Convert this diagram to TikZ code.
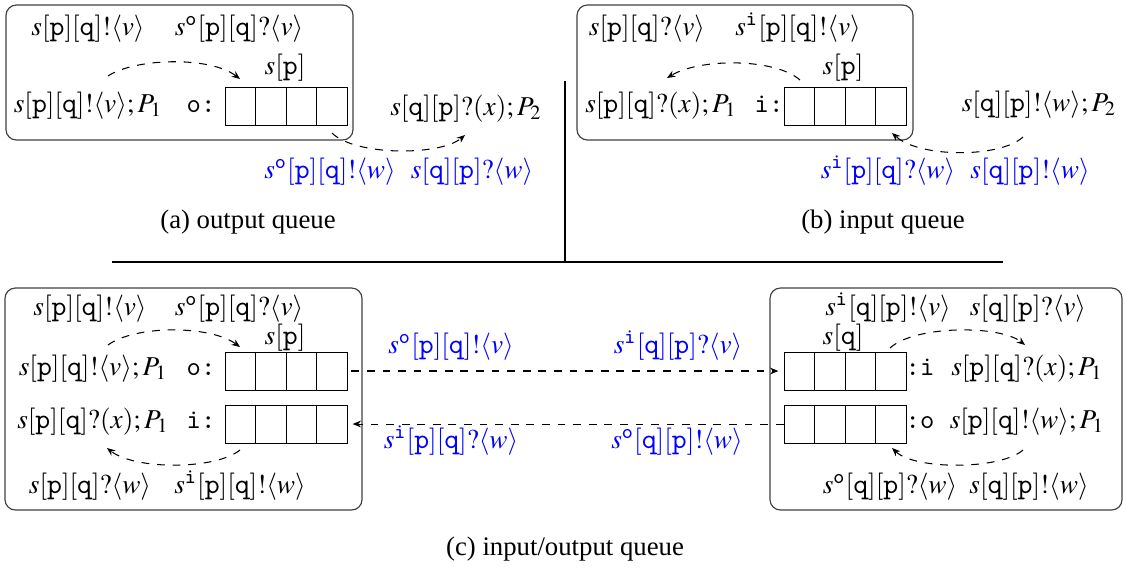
\documentclass[tikz,border=0pt]{standalone}
\usepackage{mathptmx}
\usepackage{fontspec}
\setmainfont{Liberation Serif}
\usetikzlibrary{arrows.meta,calc}

% session-type notation
\newcommand\Pp{\mathtt{p}}
\newcommand\Qq{\mathtt{q}}
\newcommand\So{s^{\mathtt{o}}}
\newcommand\Si{s^{\mathtt{i}}}
\newcommand\ang[1]{\langle #1\rangle}

\tikzset{
  lbl/.style={anchor=base, inner sep=0pt, font=\fontsize{10.5}{12}\selectfont},
  blu/.style={lbl, text=blue},
  captext/.style={anchor=base, inner sep=0pt, font=\fontsize{10.3}{12}\selectfont},
  queuebox/.style={draw, inner sep=0pt, minimum width=122*0.385pt, minimum height=38*0.385pt, line width=0.35pt},
  panel/.style={draw=black!75, rounded corners=4pt, line width=0.45pt},
  flow/.style={dashed, line width=0.4pt, -{Stealth[length=3.2pt,width=2.6pt]}},
  sepline/.style={line width=0.8pt}
}

% a four-cell queue buffer
\newcommand\queue[2]{%
  \node[queuebox] (#1) at #2 {};
  \foreach \f in {0.25,0.5,0.75}
    \draw[line width=0.35pt] ($(#1.north west)!\f!(#1.north east)$) -- ($(#1.south west)!\f!(#1.south east)$);
}

\begin{document}
\begin{tikzpicture}[x=0.385pt, y=-0.385pt]
\useasboundingbox (0,0) rectangle (1126,567);

% ---------- (a) output queue ----------
\draw[panel] (6,5) rectangle (353,140);
\node[lbl] (a1) at (88,35) {$s[\Pp][\Qq]!\ang{v}$};
\node[lbl] (a2) at (239,35) {$\So[\Pp][\Qq]?\ang{v}$};
\node[lbl] (asp) at (285,74) {$s[\Pp]$};
\node[lbl] (aproc) at (88,112) {$s[\Pp][\Qq]!\ang{v};P_1$};
\node[lbl] (ao) at (201,112) {\texttt{o:}};
\queue{qa}{(286,106)}
\node[lbl] (aproc2) at (466,115) {$s[\Qq][\Pp]?(x);P_2$};
\node[blu] (ab1) at (330,178) {$\So[\Pp][\Qq]!\ang{w}$};
\node[blu] (ab2) at (472,178) {$s[\Qq][\Pp]?\ang{w}$};
\node[captext] (capa) at (248,228) {(a) output queue};
\coordinate (a-s1) at (108,76);  \coordinate (a-e1) at (240,79);
\coordinate (a-s2) at (332,133); \coordinate (a-e2) at (465,135);
\draw[flow] (a-s1) .. controls (135,58) and (210,56) .. (a-e1);
\draw[flow] (a-s2) .. controls (355,156) and (440,156) .. (a-e2);

% ---------- (b) input queue ----------
\draw[panel] (577,5) rectangle (913,140);
\node[lbl] (b1) at (647,35) {$s[\Pp][\Qq]?\ang{v}$};
\node[lbl] (b2) at (798,35) {$\Si[\Pp][\Qq]!\ang{v}$};
\node[lbl] (bsp) at (843,74) {$s[\Pp]$};
\node[lbl] (bproc) at (661,112) {$s[\Pp][\Qq]?(x);P_1$};
\node[lbl] (bi) at (769,112) {\texttt{i:}};
\queue{qb}{(845,106)}
\node[lbl] (bproc2) at (1039,111) {$s[\Qq][\Pp]!\ang{w};P_2$};
\node[blu] (bb1) at (888,178) {$\Si[\Pp][\Qq]?\ang{w}$};
\node[blu] (bb2) at (1030,178) {$s[\Qq][\Pp]!\ang{w}$};
\node[captext] (capb) at (883,228) {(b) input queue};
\coordinate (b-s1) at (800,80);   \coordinate (b-e1) at (667,78);
\coordinate (b-s2) at (1023,137); \coordinate (b-e2) at (892,133);
\draw[flow] (b-s1) .. controls (775,58) and (700,58) .. (b-e1);
\draw[flow] (b-s2) .. controls (1000,158) and (920,158) .. (b-e2);

% ---------- separators ----------
\coordinate (vtop) at (565,81);
\coordinate (vbot) at (565,262);
\coordinate (hl) at (112,262);
\coordinate (hr) at (1003,262);
\draw[sepline] (vtop) -- (vbot);
\draw[sepline] (hl) -- (hr);

% ---------- (c) input/output queue: left endpoint ----------
\draw[panel] (5,288) rectangle (362,510);
\node[lbl] (c1) at (90,315) {$s[\Pp][\Qq]!\ang{v}$};
\node[lbl] (c2) at (239,315) {$\So[\Pp][\Qq]?\ang{v}$};
\node[lbl] (csp) at (285,344) {$s[\Pp]$};
\node[lbl] (cproc1) at (93,375) {$s[\Pp][\Qq]!\ang{v};P_1$};
\node[lbl] (co) at (201,375) {\texttt{o:}};
\queue{qco}{(286,371)}
\node[lbl] (cproc2) at (93,428) {$s[\Pp][\Qq]?(x);P_1$};
\node[lbl] (ci) at (201,428) {\texttt{i:}};
\queue{qci}{(286,424)}
\node[lbl] (c3) at (90,493) {$s[\Pp][\Qq]?\ang{w}$};
\node[lbl] (c4) at (240,493) {$\Si[\Pp][\Qq]!\ang{w}$};
\coordinate (c-s1) at (108,345); \coordinate (c-e1) at (240,347);
\coordinate (c-s2) at (240,450); \coordinate (c-e2) at (107,448);
\draw[flow] (c-s1) .. controls (135,325) and (210,325) .. (c-e1);
\draw[flow] (c-s2) .. controls (215,470) and (135,470) .. (c-e2);

% ---------- (c) input/output queue: right endpoint ----------
\draw[panel] (770,288) rectangle (1122,510);
\node[lbl] (d1) at (888,315) {$\Si[\Qq][\Pp]!\ang{v}$};
\node[lbl] (d2) at (1028,315) {$s[\Qq][\Pp]?\ang{v}$};
\node[lbl] (dsq) at (843,344) {$s[\Qq]$};
\queue{qdi}{(845,371)}
\node[lbl] (di) at (920,375) {\texttt{:i}};
\node[lbl] (dproc1) at (1027,375) {$s[\Pp][\Qq]?(x);P_1$};
\queue{qdo}{(845,424)}
\node[lbl] (do) at (920,428) {\texttt{:o}};
\node[lbl] (dproc2) at (1027,428) {$s[\Pp][\Qq]!\ang{w};P_1$};
\node[lbl] (d3) at (890,493) {$\So[\Qq][\Pp]?\ang{w}$};
\node[lbl] (d4) at (1029,493) {$s[\Qq][\Pp]!\ang{w}$};
\coordinate (d-s1) at (890,348);  \coordinate (d-e1) at (1025,345);
\coordinate (d-s2) at (1023,450); \coordinate (d-e2) at (892,448);
\draw[flow] (d-s1) .. controls (915,325) and (1000,325) .. (d-e1);
\draw[flow] (d-s2) .. controls (1000,470) and (915,470) .. (d-e2);

% ---------- channels between the endpoints ----------
\draw[flow, shorten <=1.5pt, shorten >=2pt] (qco.east) -- (qdi.west);
\draw[flow, shorten >=2pt] (qdo.west) -- (qci.east);
\node[blu] (m1) at (451,353) {$\So[\Pp][\Qq]!\ang{v}$};
\node[blu] (m2) at (678,353) {$\Si[\Qq][\Pp]?\ang{v}$};
\node[blu] (m3) at (451,448) {$\Si[\Pp][\Qq]?\ang{w}$};
\node[blu] (m4) at (677,448) {$\So[\Qq][\Pp]!\ang{w}$};
\node[captext] (capc) at (565,555) {(c) input/output queue};
\end{tikzpicture}
\end{document}
